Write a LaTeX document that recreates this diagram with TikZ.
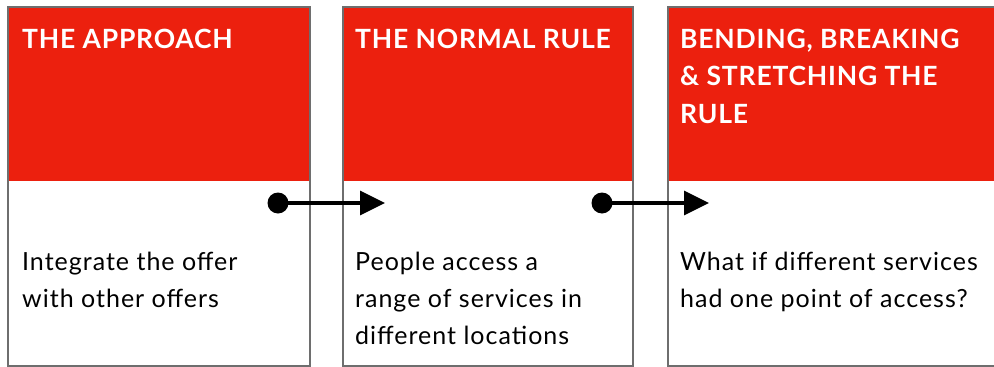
\documentclass[tikz,border=0pt]{standalone}
\usepackage{fontspec}
\setmainfont{Lato}
\newfontfamily\headfont[LetterSpace=3]{Lato}
\newfontfamily\bodyfont[LetterSpace=4]{Lato}
\usetikzlibrary{arrows.meta,positioning}
\definecolor{headred}{RGB}{236,32,14}
\definecolor{framegray}{RGB}{110,110,110}
\tikzset{
  frame/.style={draw=framegray, line width=2pt},
  headtext/.style={anchor=base west, align=left, text=white, inner sep=0pt,
    font=\headfont\fontsize{26.5}{37.5}\selectfont\bfseries},
  bodytext/.style={anchor=base west, align=left, inner sep=0pt,
    font=\bodyfont\fontsize{25}{37}\selectfont},
  dot/.style={circle, fill=black, minimum size=21pt, inner sep=0pt},
  link/.style={line width=3.5pt, -{Triangle[length=25pt,width=24pt]}}
}
\begin{document}
\begin{tikzpicture}[x=1pt,y=-1pt]
    \useasboundingbox (0,0) rectangle (994,367);
    % panels
    \fill[headred] (8,7) rectangle (310,181);
    \fill[headred] (343,7) rectangle (633,181);
    \fill[headred] (668,7) rectangle (997,181);
    \draw[frame] (8,7) rectangle (310,366);
    \draw[frame] (343,7) rectangle (633,366);
    \draw[frame] (668,7) rectangle (997,366);
    % headings (anchored at the last baseline)
    \node[headtext] (approach) at (22,48) {THE APPROACH};
    \node[headtext] (normal) at (355,48) {THE NORMAL RULE};
    \node[headtext] (bending) at (680,123) {BENDING, BREAKING\\ \& STRETCHING THE\\ RULE};
    % texts
    \node[bodytext] (integrate) at (22,307) {Integrate the offer\\ with other offers};
    \node[bodytext] (people) at (355,344) {People access a\\ range of services in\\ different locations};
    \node[bodytext] (whatif) at (680,307) {What if different services\\ had one point of access?};
    % connectors
    \node[dot] (dotA) at (278,203) {};
    \coordinate (tipA) at (385,203);
    \node[dot] (dotB) at (602,203) {};
    \coordinate (tipB) at (709,203);
    \draw[link] (dotA.center) -- (tipA);
    \draw[link] (dotB.center) -- (tipB);
\end{tikzpicture}
\end{document}
